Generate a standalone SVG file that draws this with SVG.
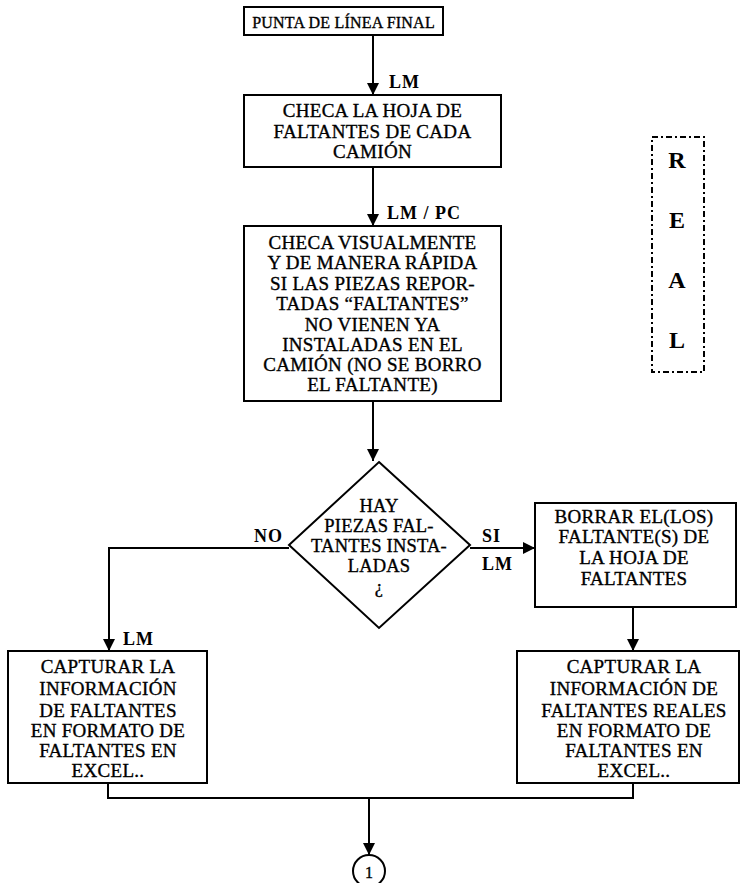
<svg xmlns="http://www.w3.org/2000/svg" width="742" height="883" viewBox="0 0 742 883">
<style>
.box{fill:#fff;stroke:#000;stroke-width:2}
.t{font-family:"Liberation Serif",serif;font-size:19px;letter-spacing:0.3px;text-anchor:middle;fill:#000;stroke:#000;stroke-width:0.35}
.d{font-size:18.5px;letter-spacing:0.2px}
.lbl{font-family:"Liberation Serif",serif;font-size:18px;font-weight:bold;letter-spacing:1px;fill:#000}
.real{font-family:"Liberation Serif",serif;font-size:24px;font-weight:bold;text-anchor:middle;fill:#000}
.ln{fill:none;stroke:#000;stroke-width:2}
</style>
<defs>
<marker id="ah" viewBox="0 0 12 12" refX="12" refY="6" markerWidth="12" markerHeight="12" markerUnits="userSpaceOnUse" orient="auto">
<path d="M0,0 L12,6 L0,12 Z" fill="#000"/>
</marker>
</defs>
<rect width="742" height="883" fill="#fff"/>

<g id="connectors">
<path class="ln" d="M373,35 V95" marker-end="url(#ah)"/>
<path class="ln" d="M373,167 V226" marker-end="url(#ah)"/>
<path class="ln" d="M373,401 V461" marker-end="url(#ah)"/>
<path class="ln" d="M289,548 H109 V651" marker-end="url(#ah)"/>
<path class="ln" d="M470,548 H535" marker-end="url(#ah)"/>
<path class="ln" d="M633,607 V651" marker-end="url(#ah)"/>
<path class="ln" d="M108,783 V798 H633 V783"/>
<path class="ln" d="M369,798 V855" marker-end="url(#ah)"/>
<text class="lbl" x="389" y="88">LM</text>
<text class="lbl" x="387" y="219">LM / PC</text>
<text class="lbl" x="254" y="542">NO</text>
<text class="lbl" x="482" y="542">SI</text>
<text class="lbl" x="482" y="570">LM</text>
<text class="lbl" x="123" y="645">LM</text>
</g>

<g id="start">
<rect class="box" x="244" y="7" width="199" height="28"/>
<text class="t" x="343.5" y="28" style="font-size:16px;letter-spacing:0.2px">PUNTA DE LÍNEA FINAL</text>
</g>

<g id="checa-hoja">
<rect class="box" x="244" y="95" width="257" height="72"/>
<text class="t" x="372.5" y="117">CHECA LA HOJA DE</text>
<text class="t" x="372.5" y="138">FALTANTES DE CADA</text>
<text class="t" x="372.5" y="158">CAMIÓN</text>
</g>

<g id="checa-visual">
<rect class="box" x="244" y="226" width="257" height="175"/>
<text class="t" x="372.5" y="249">CHECA VISUALMENTE</text>
<text class="t" x="372.5" y="269">Y DE MANERA RÁPIDA</text>
<text class="t" x="372.5" y="290">SI LAS PIEZAS REPOR-</text>
<text class="t" x="372.5" y="310">TADAS “FALTANTES”</text>
<text class="t" x="372.5" y="331">NO VIENEN YA</text>
<text class="t" x="372.5" y="351">INSTALADAS EN EL</text>
<text class="t" x="372.5" y="371">CAMIÓN (NO SE BORRO</text>
<text class="t" x="372.5" y="391">EL FALTANTE)</text>
</g>

<g id="decision">
<polygon class="box" points="379,462 470,545 379,628 289,545"/>
<text class="t d" x="379" y="512">HAY</text>
<text class="t d" x="379" y="532">PIEZAS FAL-</text>
<text class="t d" x="379" y="552">TANTES INSTA-</text>
<text class="t d" x="379" y="572">LADAS</text>
<text class="t d" x="379" y="593">¿</text>
</g>

<g id="borrar">
<rect class="box" x="535" y="503" width="201" height="104"/>
<text class="t" x="634" y="523">BORRAR EL(LOS)</text>
<text class="t" x="634" y="543">FALTANTE(S) DE</text>
<text class="t" x="634" y="564">LA HOJA DE</text>
<text class="t" x="634" y="585">FALTANTES</text>
</g>

<g id="capturar-izq">
<rect class="box" x="8" y="651" width="199" height="132"/>
<text class="t" x="108" y="673">CAPTURAR LA</text>
<text class="t" x="108" y="695">INFORMACIÓN</text>
<text class="t" x="108" y="717">DE FALTANTES</text>
<text class="t" x="108" y="737">EN FORMATO DE</text>
<text class="t" x="108" y="757">FALTANTES EN</text>
<text class="t" x="108" y="777">EXCEL..</text>
</g>

<g id="capturar-der">
<rect class="box" x="517" y="651" width="222" height="132"/>
<text class="t" x="634" y="673">CAPTURAR LA</text>
<text class="t" x="634" y="695">INFORMACIÓN DE</text>
<text class="t" x="634" y="717">FALTANTES REALES</text>
<text class="t" x="634" y="737">EN FORMATO DE</text>
<text class="t" x="634" y="757">FALTANTES EN</text>
<text class="t" x="634" y="777">EXCEL..</text>
</g>

<g id="connector-1">
<circle class="box" cx="369" cy="871" r="16"/>
<text class="t" x="369" y="878" style="font-size:16px;letter-spacing:0">1</text>
</g>

<g id="real">
<rect x="652" y="137" width="52" height="235" fill="none" stroke="#000" stroke-width="2" stroke-dasharray="6 3 2 3"/>
<text class="real" x="677" y="168">R</text>
<text class="real" x="677" y="228">E</text>
<text class="real" x="677" y="288">A</text>
<text class="real" x="677" y="348">L</text>
</g>
</svg>
